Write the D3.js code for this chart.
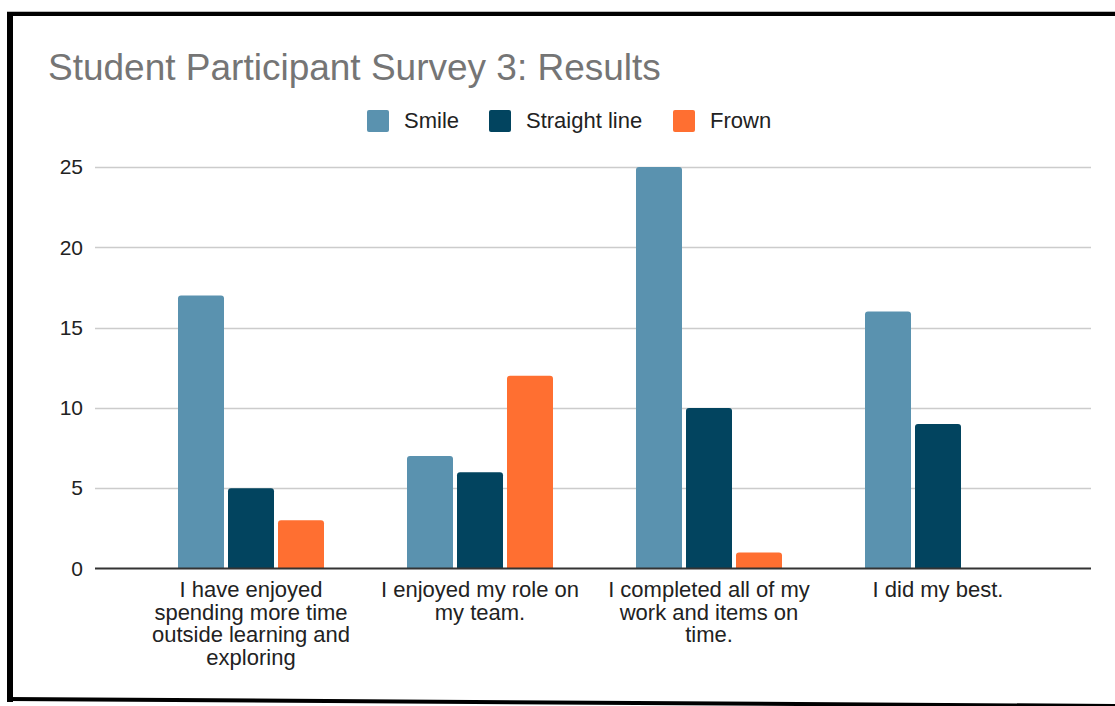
<!DOCTYPE html>
<html>
<head>
<meta charset="utf-8">
<script src="https://cdn.jsdelivr.net/npm/d3@7"></script>
<style>
  html, body { margin: 0; padding: 0; background: #fff; }
  svg { display: block; font-family: "Liberation Sans", Arial, sans-serif; }
</style>
</head>
<body>
<svg id="chart" width="1115" height="706"></svg>
<script>
const categories = [
  "I have enjoyed spending more time outside learning and exploring",
  "I enjoyed my role on my team.",
  "I completed all of my work and items on time.",
  "I did my best."
];
const seriesNames = ["Smile", "Straight line", "Frown"];
const smile = [17, 7, 25, 16];
const straightLine = [5, 6, 10, 9];
const frown = [3, 12, 1, 0];
const yTicks = [0, 5, 10, 15, 20, 25];
const colors = ["#5a92af", "#02445f", "#ff6f31"];
const seriesValues = [smile, straightLine, frown];

const svg = d3.select("#chart");

// frame border (screenshot)
svg.append("rect").attr("x", 7).attr("y", 11).attr("width", 1108).attr("height", 1).attr("fill", "#bbb");
svg.append("rect").attr("x", 7).attr("y", 12).attr("width", 1108).attr("height", 4).attr("fill", "#000");
svg.append("rect").attr("x", 7).attr("y", 12).attr("width", 6).attr("height", 690).attr("fill", "#000");
svg.append("line").attr("x1", 7).attr("y1", 699).attr("x2", 1115).attr("y2", 706)
  .attr("stroke", "#000").attr("stroke-width", 4);

// title
svg.append("text").attr("x", 48).attr("y", 80)
  .attr("font-size", 37).attr("fill", "#757575")
  .text("Student Participant Survey 3: Results");

// legend
const legendX = [367, 489, 673];
const leg = svg.append("g");
seriesNames.forEach((name, i) => {
  leg.append("rect").attr("x", legendX[i]).attr("y", 110).attr("width", 22).attr("height", 22)
    .attr("rx", 2).attr("fill", colors[i]);
  leg.append("text").attr("x", legendX[i] + 37).attr("y", 128)
    .attr("font-size", 22).attr("fill", "#222").text(name);
});

// scales
const plotLeft = 95, plotRight = 1091;
const y = d3.scaleLinear().domain([0, 25]).range([568.5, 167]);
const x0 = d3.scaleBand().domain(categories).range([136.5, 1052.5]).padding(0);
const groupW = 146;
const x1 = d3.scaleBand().domain(seriesNames).range([0, groupW]).paddingInner(0.08).paddingOuter(0);

// grid
const grid = svg.append("g");
yTicks.filter(t => t !== 0).forEach(t => {
  grid.append("line").attr("x1", plotLeft).attr("x2", plotRight)
    .attr("y1", Math.round(y(t)) + 0.5).attr("y2", Math.round(y(t)) + 0.5)
    .attr("stroke", "#cccccc").attr("stroke-width", 1.5);
});

// y labels
const yAxis = d3.axisLeft(y).tickValues(yTicks).tickSize(0).tickPadding(0);
const yg = svg.append("g").attr("transform", "translate(83,0)").call(yAxis);
yg.select(".domain").remove();
yg.selectAll("text").attr("font-size", 21).attr("fill", "#222")
  .attr("font-family", "Liberation Sans, Arial, sans-serif");

// bars with rounded top corners
function topRounded(x, yTop, w, h, r) {
  if (h <= 0) return "";
  r = Math.min(r, h, w / 2);
  return `M${x},${yTop + h}V${yTop + r}Q${x},${yTop} ${x + r},${yTop}H${x + w - r}Q${x + w},${yTop} ${x + w},${yTop + r}V${yTop + h}Z`;
}
const bars = svg.append("g");
categories.forEach((c, ci) => {
  const gx = x0(c) + (x0.bandwidth() - groupW) / 2;
  seriesNames.forEach((s, si) => {
    const v = seriesValues[si][ci];
    const bx = gx + x1(s);
    const top = y(v);
    const h = y(0) - top;
    bars.append("path").attr("d", topRounded(bx, top, x1.bandwidth(), h, 3)).attr("fill", colors[si]);
  });
});

// x axis line
svg.append("line").attr("x1", plotLeft).attr("x2", plotRight).attr("y1", 568.5).attr("y2", 568.5)
  .attr("stroke", "#333").attr("stroke-width", 2);

// x labels with wrapping
const xAxis = d3.axisBottom(x0).tickSize(0).tickPadding(0);
const xg = svg.append("g").call(xAxis);
xg.select(".domain").remove();
xg.selectAll(".tick").each(function(d) {
  const t = d3.select(this).select("text");
  t.text(null).attr("y", 0).attr("dy", null)
    .attr("font-size", 22).attr("fill", "#222")
    .attr("font-family", "Liberation Sans, Arial, sans-serif")
    .attr("text-anchor", "middle");
  const words = d.split(" ");
  const maxW = 218;
  let lines = [], line = [];
  const probe = t.append("tspan");
  words.forEach(w => {
    const test = line.concat([w]).join(" ");
    probe.text(test);
    if (probe.node().getComputedTextLength() > maxW && line.length) {
      lines.push(line.join(" "));
      line = [w];
    } else {
      line.push(w);
    }
  });
  lines.push(line.join(" "));
  probe.remove();
  lines.forEach((ln, i) => {
    t.append("tspan").attr("x", 0).attr("y", 597 + i * 22.5).text(ln);
  });
});
</script>
</body>
</html>
